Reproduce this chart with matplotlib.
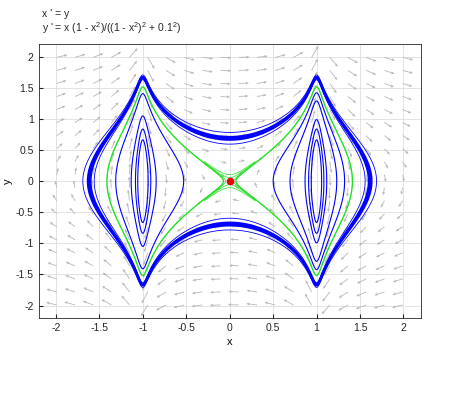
import numpy as np
import matplotlib
matplotlib.use("Agg")
import matplotlib.pyplot as plt

plt.rcParams['font.family'] = ['Liberation Sans', 'DejaVu Sans']
plt.rcParams['mathtext.fontset'] = 'custom'
plt.rcParams['mathtext.rm'] = 'Liberation Sans'
plt.rcParams['contour.negative_linestyle'] = 'solid'

# system: x' = y, y' = x(1-x^2)/((1-x^2)^2 + eps^2)
eps = 0.1

# energy levels of the drawn orbits
outer_band = [0.225, 0.24, 0.255]        # thick orbit round both centres
outer_thin = [0.18, 0.31]
left_inner = [-0.16, -0.6, -0.8, -0.93]
right_inner = [-0.14, -0.32, -0.66, -0.8, -0.93]
separatrix = [0.0]
saddle_near = [0.0015, 0.004, 0.008]     # short green runs near the saddle
equilibria_x = [0.0]
equilibria_y = [0.0]

ticks = [-2, -1.5, -1, -0.5, 0, 0.5, 1, 1.5, 2]
tick_labels = ['-2', '-1.5', '-1', '-0.5', '0', '0.5', '1', '1.5', '2']


def field(x, y):
    u = 1 - x**2
    return y, x * u / (u**2 + eps**2)


def energy(x, y):
    return y**2 / 2 + 0.25 * np.log((1 - x**2)**2 + eps**2)


fig = plt.figure(figsize=(4.64, 4.09), dpi=100)
ax = fig.add_axes([0.083, 0.2225, 0.824, 0.669])
lim = 2.2
ax.set_xlim(-lim, lim)
ax.set_ylim(-lim, lim)

# direction field
g = np.linspace(-lim, lim, 22)[1:-1]
X, Y = np.meshgrid(g, g)
U, V = field(X, Y)
sx = 0.824 * 464 / (2 * lim)   # pixels per unit
sy = 0.669 * 409 / (2 * lim)
m = np.hypot(U * sx, V * sy)
L = np.minimum(14, 11 * (m / 180) ** 0.3)
du = U * sx / m * L / sx
dv = V * sy / m * L / sy
ax.quiver(X, Y, du, dv, angles='xy', scale_units='xy', scale=1,
          color='#b8b8b8', width=0.0022, headwidth=3.5, headlength=4,
          headaxislength=3.5, zorder=1)

# orbits as level sets
xs = np.linspace(-lim, lim, 900)
ys = np.linspace(-lim, lim, 900)
XX, YY = np.meshgrid(xs, ys)
H = energy(XX, YY)
ax.contour(XX, YY, H, levels=sorted(outer_band), colors='#0000ff', linewidths=1.6, zorder=3)
ax.contour(XX, YY, H, levels=sorted(outer_thin), colors='#0000ff', linewidths=0.6, zorder=3)

left = XX < 0
ax.contour(XX, YY, np.where(left, H, np.nan), levels=sorted(left_inner),
           colors='#0000ff', linewidths=0.8, zorder=3)
ax.contour(XX, YY, np.where(~left, H, np.nan), levels=sorted(right_inner),
           colors='#0000ff', linewidths=0.8, zorder=3)

ax.contour(XX, YY, H, levels=separatrix, colors='#22e022', linewidths=1.0, zorder=4)
near = (np.abs(XX) < 0.3) & (np.abs(YY) < 0.35)
ax.contour(XX, YY, np.where(near, H, np.nan), levels=sorted(saddle_near),
           colors='#22e022', linewidths=0.5, zorder=4)

ax.plot(equilibria_x, equilibria_y, 'o', color='#ee0000', markersize=4.5, zorder=5)

ax.set_xticks(ticks)
ax.set_xticklabels(tick_labels)
ax.set_yticks(ticks)
ax.set_yticklabels(tick_labels)
ax.tick_params(direction='in', labelsize=7.5, length=3, colors='#262626',
               top=False, right=False)
ax.grid(True, color='#dedede', linewidth=0.6, zorder=0)
ax.set_axisbelow(True)
for s in ax.spines.values():
    s.set_color('#262626')
    s.set_linewidth(0.6)
ax.set_xlabel('x', fontsize=8, labelpad=3)
ax.set_ylabel('y', fontsize=8, labelpad=2)

fig.text(0.09, 0.958, "x ' = y", fontsize=7.5, ha='left', va='baseline', color='#262626')
fig.text(0.09, 0.921, "y ' = x (1 - x$^2$)/((1 - x$^2$)$^2$ + 0.1$^2$)", fontsize=7.5,
         ha='left', va='baseline', color='#262626')

fig.savefig('out.png', dpi=100)
